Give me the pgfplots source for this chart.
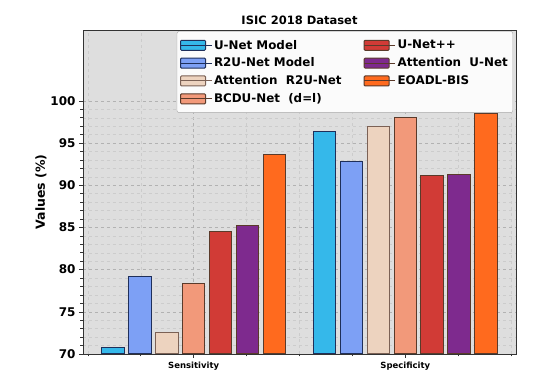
\documentclass[border=0pt]{standalone}
\usepackage{pgfplots}
\pgfplotsset{compat=1.18}
\usepackage{fontspec}
\setmainfont{DejaVu Sans}

\definecolor{cunet}{HTML}{35B8EA}
\definecolor{cr2u}{HTML}{7DA0F5}
\definecolor{cattr2u}{HTML}{EDD3BF}
\definecolor{cbcdu}{HTML}{F2997A}
\definecolor{cunetpp}{HTML}{D13B36}
\definecolor{cattu}{HTML}{7E2A8E}
\definecolor{ceoadl}{HTML}{FF6A1E}
\definecolor{navy}{HTML}{1F2F5A}
\definecolor{brownedge}{HTML}{5A3A2A}
\definecolor{axbg}{HTML}{DEDEDE}

\begin{document}
\begin{tikzpicture}
\begin{axis}[
  at={(0,0)}, anchor=south west,
  scale only axis, width=433pt, height=324pt,
  ybar, bar width=0.106,
  xmin=-0.523, xmax=1.523,
  ymin=70, ymax=108.4,
  xtick={0,1},
  xticklabels={Sensitivity,Specificity},
  minor xtick={-0.5,-0.25,0.25,0.5,0.75,1.25,1.5},
  ytick={70,75,...,100},
  minor y tick num=4,
  grid=both,
  major grid style={gray!60, dashed, line width=0.5pt},
  minor grid style={gray!40, dashed, line width=0.4pt},
  axis background/.style={fill=axbg},
  axis line style={black!80, line width=0.8pt},
  tick align=outside, tick pos=left,
  major tick length=4pt, minor tick length=2.5pt,
  tick style={black!80, line width=0.6pt},
  /pgf/number format/assume math mode=true,
  yticklabel style={font=\fontsize{12}{14}\selectfont\bfseries},
  xticklabel style={font=\fontsize{8.5}{10}\selectfont\bfseries, yshift=-1pt},
  ylabel={Values (\%)},
  ylabel style={font=\fontsize{12.5}{14}\selectfont\bfseries, yshift=-3pt},
  title={ISIC 2018 Dataset},
  title style={font=\fontsize{11.5}{13}\selectfont\bfseries, yshift=-4pt},
  legend columns=2,
  legend style={at={(0.993,0.996)}, anchor=north east,
    font=\fontsize{11.9}{13}\selectfont\bfseries,
    fill=white!97!gray, draw=gray!70, rounded corners=2pt,
    row sep=3.3pt, inner xsep=3pt, inner ysep=6.5pt,
    /tikz/every even column/.append style={column sep=20pt}},
  legend cell align=left,
  legend image code/.code={\draw[#1, rounded corners=1pt] (0pt,-5pt) rectangle (25pt,5pt);
    \path (0pt,0pt) -- (31pt,0pt);},
]
% Sensitivity at 0, Specificity at 1
\addplot[forget plot, bar shift=-0.381, fill=cunet,   draw=navy, line width=1pt] coordinates {(0,70.8) (1,96.4)};
\addplot[forget plot, bar shift=-0.254, fill=cr2u,    draw=navy, line width=1pt] coordinates {(0,79.2) (1,92.8)};
\addplot[forget plot, bar shift=-0.127, fill=cattr2u, draw=brownedge!80, line width=1pt] coordinates {(0,72.6) (1,97.0)};
\addplot[forget plot, bar shift=0,      fill=cbcdu,   draw=brownedge, line width=1pt] coordinates {(0,78.3) (1,98.0)};
\addplot[forget plot, bar shift=0.127,  fill=cunetpp, draw=brownedge, line width=1pt] coordinates {(0,84.5) (1,91.1)};
\addplot[forget plot, bar shift=0.254,  fill=cattu,   draw=brownedge, line width=1pt] coordinates {(0,85.2) (1,91.3)};
\addplot[forget plot, bar shift=0.381,  fill=ceoadl,  draw=brownedge, line width=1pt] coordinates {(0,93.6) (1,98.5)};

\addlegendimage{fill=cunet, draw=navy, line width=1pt}
\addlegendentry{U-Net Model}
\addlegendimage{fill=cunetpp, draw=brownedge, line width=1pt}
\addlegendentry{U-Net++}
\addlegendimage{fill=cr2u, draw=navy, line width=1pt}
\addlegendentry{R2U-Net Model}
\addlegendimage{fill=cattu, draw=brownedge, line width=1pt}
\addlegendentry{Attention\ \ U-Net}
\addlegendimage{fill=cattr2u, draw=brownedge!80, line width=1pt}
\addlegendentry{Attention\ \ R2U-Net}
\addlegendimage{fill=ceoadl, draw=brownedge, line width=1pt}
\addlegendentry{EOADL-BIS}
\addlegendimage{fill=cbcdu, draw=brownedge, line width=1pt}
\addlegendentry{BCDU-Net\ \ (d=l)}
\end{axis}
\path (-83pt,-28pt) rectangle (469pt,354pt);
\end{tikzpicture}
\end{document}
